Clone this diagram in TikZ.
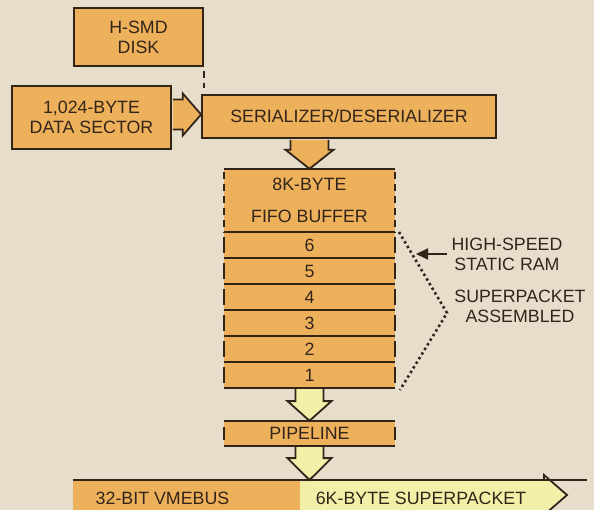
\documentclass[tikz,border=0pt]{standalone}
\usepackage{fontspec}
\setmainfont{Liberation Sans}
\usetikzlibrary{calc,arrows.meta}
\definecolor{bg}{HTML}{E7DDCB}
\definecolor{org}{HTML}{EEB15B}
\definecolor{ylw}{HTML}{F2F0A8}
\definecolor{ink}{HTML}{33241A}
\begin{document}
\begin{tikzpicture}[x=1pt,y=-1pt,
  every node/.style={font=\fontsize{17.8}{20}\selectfont, text=ink},
  box/.style={draw=ink, line width=1.8pt, fill=org, align=center, inner sep=0pt},
  cell/.style={fill=org, minimum width=171pt, inner sep=0pt},
  ln/.style={draw=ink, line width=1.8pt},
  blk/.style={draw=ink, line width=1.8pt, line join=miter},
]
\fill[bg] (0,0) rectangle (594,510);
\useasboundingbox (0,0) rectangle (594,510);
\clip (0,0) rectangle (594,510);

% boxes
\node[box, minimum width=129pt, minimum height=58pt] (disk) at (138.5,37) {H-SMD\\DISK};
\node[box, minimum width=159pt, minimum height=63pt] (data) at (91.5,117.5) {1,024-BYTE\\DATA SECTOR};
\node[box, minimum width=294pt, minimum height=43pt] (serdes) at (349,116.5) {SERIALIZER/DESERIALIZER};

% FIFO stack
\node[cell, minimum height=63pt, align=center] (hdr) at (309.5,200.5) {8K-BYTE\\[12pt]FIFO BUFFER};
\foreach \n/\yy in {6/245,5/271,4/297,3/323,2/349,1/375}
  \node[cell, minimum height=26pt] (r\n) at (309.5,\yy) {\n};
\node[cell, minimum height=25pt] (pipe) at (309.5,433.5) {PIPELINE};

\draw[ln] (hdr.north west) -- (hdr.north east);
\draw[ln, dash pattern=on 7pt off 5pt] ([yshift=-3pt]hdr.north west) -- (hdr.south west);
\draw[ln, dash pattern=on 7pt off 5pt] ([yshift=-3pt]hdr.north east) -- (hdr.south east);
\foreach \n in {6,5,4,3,2,1} {
  \draw[ln] (r\n.north west) -- (r\n.north east);
  \draw[ln] ([yshift=-5pt]r\n.north west) -- ([yshift=5pt]r\n.south west);
  \draw[ln] ([yshift=-5pt]r\n.north east) -- ([yshift=5pt]r\n.south east);
}
\draw[ln] (r1.south west) -- (r1.south east);
\draw[ln] (pipe.north west) -- (pipe.north east);
\draw[ln] (pipe.south west) -- (pipe.south east);
\draw[ln] ([yshift=-6pt]pipe.north west) -- ([yshift=6pt]pipe.south west);
\draw[ln] ([yshift=-6pt]pipe.north east) -- ([yshift=6pt]pipe.south east);

% disk to serdes dashed
\draw[ln, dash pattern=on 7pt off 5pt] ($(disk.south east)+(0,4)$) -- ($(disk.south east |- serdes.north)+(0,-6)$);

% block arrow data -> serdes
\coordinate (a1) at ($(data.east)+(0.9,-3)$);
\coordinate (a1t) at (serdes.west |- a1);
\filldraw[blk, fill=org] ($(a1)+(0,-15)$) -- ($(a1)+(10,-15)$) -- ($(a1)+(10,-21)$) -- (a1t)
  -- ($(a1)+(10,21)$) -- ($(a1)+(10,15)$) -- ($(a1)+(0,15)$);

% block arrow serdes -> fifo
\coordinate (a2) at ($(hdr.north |- serdes.south)+(0,0.9)$);
\filldraw[blk, fill=org] ($(a2)+(-19,0)$) -- ($(a2)+(-19,10)$) -- ($(a2)+(-24,10)$) -- (hdr.north)
  -- ($(a2)+(24,10)$) -- ($(a2)+(19,10)$) -- ($(a2)+(19,0)$);

% block arrow fifo -> pipeline
\coordinate (a3) at ($(r1.south)+(0,0.9)$);
\filldraw[blk, fill=ylw] ($(a3)+(-14,0)$) -- ($(a3)+(-14,12)$) -- ($(a3)+(-22,12)$) -- (pipe.north)
  -- ($(a3)+(22,12)$) -- ($(a3)+(14,12)$) -- ($(a3)+(14,0)$);

% bottom bus
\coordinate (busL) at (73,480);
\coordinate (busM) at (300,480);
\coordinate (busR) at (587,480);
\coordinate (a4t) at (pipe.south |- busL);
\fill[org] (busL) rectangle (300,516);
\fill[ylw] (busM) -- (544,480) -- (544,475) -- (567,495) -- (544,515) -- (544,520) -- (300,520) -- cycle;
\draw[ln, line join=miter] (544,480) -- (544,475) -- (567,495) -- (544,515);

% block arrow pipeline -> bus
\coordinate (a4) at ($(pipe.south)+(0,0.9)$);
\filldraw[blk, fill=ylw] ($(a4)+(-14,0)$) -- ($(a4)+(-14,11)$) -- ($(a4)+(-22,11)$) -- (a4t)
  -- ($(a4)+(22,11)$) -- ($(a4)+(14,11)$) -- ($(a4)+(14,0)$);
\draw[ln] (busL) -- (busR);

\node (vme) at (162.5,498.6) {32-BIT VMEBUS};
\node (sp) at (421,498.6) {6K-BYTE SUPERPACKET};

% side annotations
\node[align=center] (hs) at (507,254.6) {HIGH-SPEED\\STATIC RAM};
\node[align=center] (spa) at (520,306.6) {SUPERPACKET\\ASSEMBLED};
\coordinate (hsA) at (447,254);
\coordinate (hsB) at (416,254);
\draw[ln, -{Triangle[length=12pt,width=11pt]}] (hsA) -- (hsB);

\coordinate (brA) at (399,232);
\coordinate (brB) at (447,313);
\coordinate (brC) at (400,390);
\draw[draw=ink, line width=2.6pt, dash pattern=on 2.4pt off 3pt] (brA) -- (brB) -- (brC);
\end{tikzpicture}
\end{document}
